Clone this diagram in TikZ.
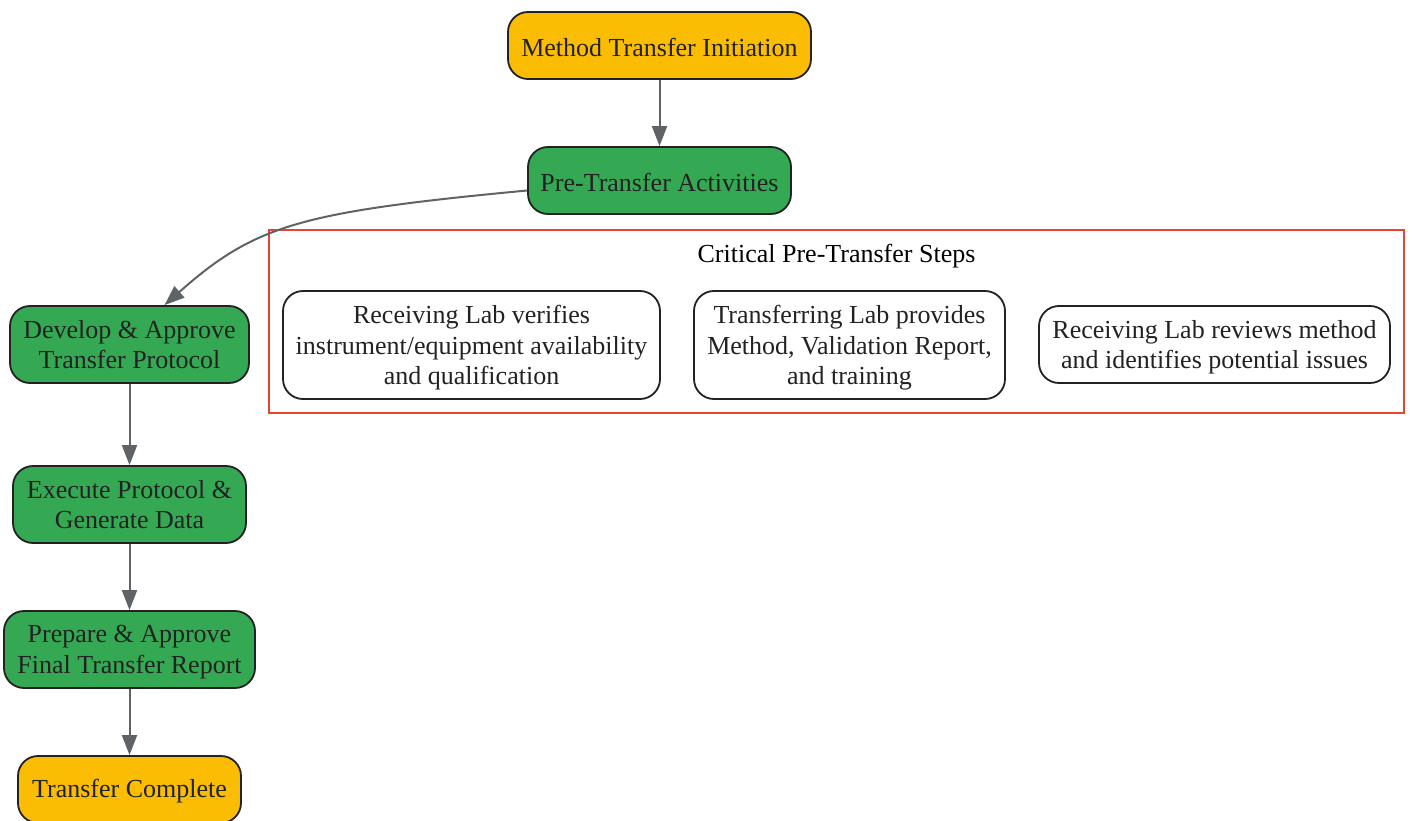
\documentclass[tikz,border=0pt]{standalone}
\usepackage{fontspec}
\setmainfont{Liberation Serif}
\usetikzlibrary{arrows.meta,positioning}
\definecolor{gyellow}{HTML}{FBBC04}
\definecolor{ggreen}{HTML}{34A853}
\definecolor{gred}{HTML}{EA4335}
\definecolor{edgegray}{HTML}{5F6368}
\definecolor{inkline}{HTML}{222222}
\begin{document}
\begin{tikzpicture}[x=1pt,y=-1pt]
    \tikzset{box/.style={draw=inkline,line width=1.8pt,rounded corners=20pt,align=center,
      text=inkline,inner sep=2pt,minimum height=67pt,font=\fontsize{26}{30.5}\selectfont},
    oneline/.style={text height=21.5pt},
    twoline/.style={minimum height=77pt,text depth=-5pt},
    term/.style={fill=gyellow},act/.style={fill=ggreen},
    stepbox/.style={fill=white,text depth=-2pt},
    flow/.style={draw=edgegray,line width=2pt,-{Triangle[length=20pt,width=15pt]}}}
    \useasboundingbox (0,0) rectangle (1410,821);
    \node[box,term,oneline,minimum width=303pt] (init) at (659.5,45.5) {Method Transfer Initiation};
    \node[box,act,oneline,minimum width=263pt] (pre) [below of=init,node distance=135pt] {Pre-Transfer Activities};
    \node[box,act,twoline,minimum width=239pt] (dev) at (129.5,344.5) {Develop \& Approve\\Transfer Protocol};
    \node[box,act,twoline,minimum width=233pt] (exec) [below of=dev,node distance=145pt,yshift=-15pt] {Execute Protocol \&\\Generate Data};
    \node[box,act,twoline,minimum width=251pt,text depth=-0.3pt] (prep) [below of=exec,node distance=145pt] {Prepare \& Approve\\Final Transfer Report};
    \node[box,term,oneline,minimum width=223pt] (done) [below of=prep,node distance=140pt] {Transfer Complete};
    % critical steps group
    \node[draw=gred,line width=1.4pt,minimum width=1135pt,minimum height=183pt] (crit) at (836.5,321.5) {};
    \node[font=\fontsize{26}{30}\selectfont,anchor=north] (crittitle) at ([yshift=-11pt]crit.north) {Critical Pre-Transfer Steps};
    \node[box,stepbox,minimum width=377pt,minimum height=108pt] (s1) at (471.5,345) {Receiving Lab verifies\\instrument/equipment availability\\and qualification};
    \node[box,stepbox,minimum width=311pt,minimum height=108pt] (s2) at (849.5,345) {Transferring Lab provides\\Method, Validation Report,\\and training};
    \node[box,stepbox,minimum width=351pt,minimum height=77pt,text depth=-3.5pt] (s3) at (1214.5,344.5) {Receiving Lab reviews method\\and identifies potential issues};
    \coordinate (devin) at ([xshift=35pt]dev.north);

    \draw[flow] (init) -- (pre);
    \draw[flow] ([yshift=-10pt]pre.west) .. controls (300,212) and (255,225) .. (devin);
    \draw[flow] (dev) -- (exec);
    \draw[flow] (exec) -- (prep);
    \draw[flow] (prep) -- (done);
\end{tikzpicture}
\end{document}
